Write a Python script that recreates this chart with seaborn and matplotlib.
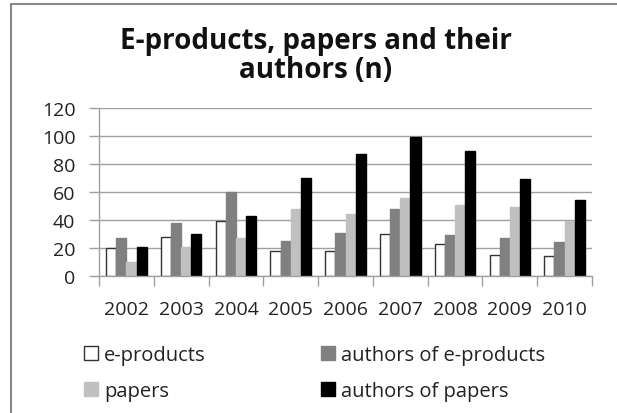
import pandas as pd
import numpy as np
import seaborn as sns
import matplotlib.pyplot as plt
from matplotlib.lines import Line2D

# Data
years = ['2002', '2003', '2004', '2005', '2006', '2007', '2008', '2009', '2010']
e_products = [20, 28, 39, 18, 18, 30, 23, 15, 14]
authors_e_products = [27, 38, 60, 25, 31, 48, 29, 27, 24]
papers = [10, 21, 27, 48, 44, 56, 51, 49, 39]
authors_papers = [21, 30, 43, 70, 87, 99, 89, 69, 54]

series = ['e-products', 'authors of e-products', 'papers', 'authors of papers']
colors = ['#ffffff', '#808080', '#c0c0c0', '#000000']

df = pd.DataFrame({'year': years * 4,
                   'series': np.repeat(series, len(years)),
                   'n': e_products + authors_e_products + papers + authors_papers})

sns.set_style('white')
plt.rcParams['font.family'] = ['Open Sans', 'DejaVu Sans']

fig = plt.figure(figsize=(6.17, 4.14), dpi=100)
ax = fig.add_axes([99 / 617, 1 - 277 / 414, (592 - 99) / 617, (277 - 109) / 414])

sns.barplot(data=df, x='year', y='n', hue='series', hue_order=series,
            palette=colors, width=0.74, gap=0.0, ax=ax, legend=True)

# outline the white bars like the original
edges = ['#333333', '#808080', '#c0c0c0', '#000000']
for cont, ec in zip(ax.containers, edges):
    for bar in cont:
        bar.set_edgecolor(ec)
        bar.set_linewidth(1.0)

ax.set_ylim(0, 120)
ax.set_xlim(-0.5, len(years) - 0.5)
ax.set_yticks(range(0, 121, 20))
ax.set_xlabel('')
ax.set_ylabel('')
ax.yaxis.grid(True, color='#a0a0a0', linewidth=1)
ax.set_axisbelow(True)

for side in ['top', 'right']:
    ax.spines[side].set_visible(False)
for side in ['left', 'bottom']:
    ax.spines[side].set_color('#a0a0a0')
    ax.spines[side].set_linewidth(1)

# category boundary ticks on x, Excel style
ax.set_xticks(np.arange(-0.5, len(years), 1), minor=True)
ax.tick_params(axis='x', which='major', length=0, pad=17, labelsize=14, labelcolor='#222222')
ax.tick_params(axis='x', which='minor', length=7, width=1, color='#a0a0a0', direction='out')
ax.tick_params(axis='y', length=7, width=1, color='#a0a0a0', direction='out',
               pad=10, labelsize=14, labelcolor='#222222')
ax.tick_params(bottom=True, left=True, which='both')

fig.text(316 / 617, 1 - 56 / 414, 'E-products, papers and their\nauthors (n)',
         ha='center', va='center', fontsize=20, fontweight='bold',
         linespacing=1.02, color='#111111')

# legend in two columns below the axes
handles, labels = ax.get_legend_handles_labels()
ax.get_legend().remove()
for h, ec in zip(handles, edges):
    h.set_edgecolor(ec)
    h.set_linewidth(1.0)
order = [0, 2, 1, 3]
fig.legend([handles[i] for i in order], [labels[i] for i in order],
           ncol=2, loc='center left', bbox_to_anchor=(66 / 617, 1 - 374 / 414),
           frameon=False, fontsize=14.5, handlelength=0.7, handleheight=0.7,
           handletextpad=0.3, columnspacing=5.7, labelspacing=0.8,
           labelcolor='#222222')

# outer frame (left and top edges are visible in the original)
fig.add_artist(Line2D([11 / 617, 11 / 617], [0, 1 - 5 / 414], color='#888888', linewidth=1.5))
fig.add_artist(Line2D([11 / 617, 1], [1 - 5 / 414, 1 - 5 / 414], color='#888888', linewidth=1.5))

fig.savefig('out.png', dpi=100)
